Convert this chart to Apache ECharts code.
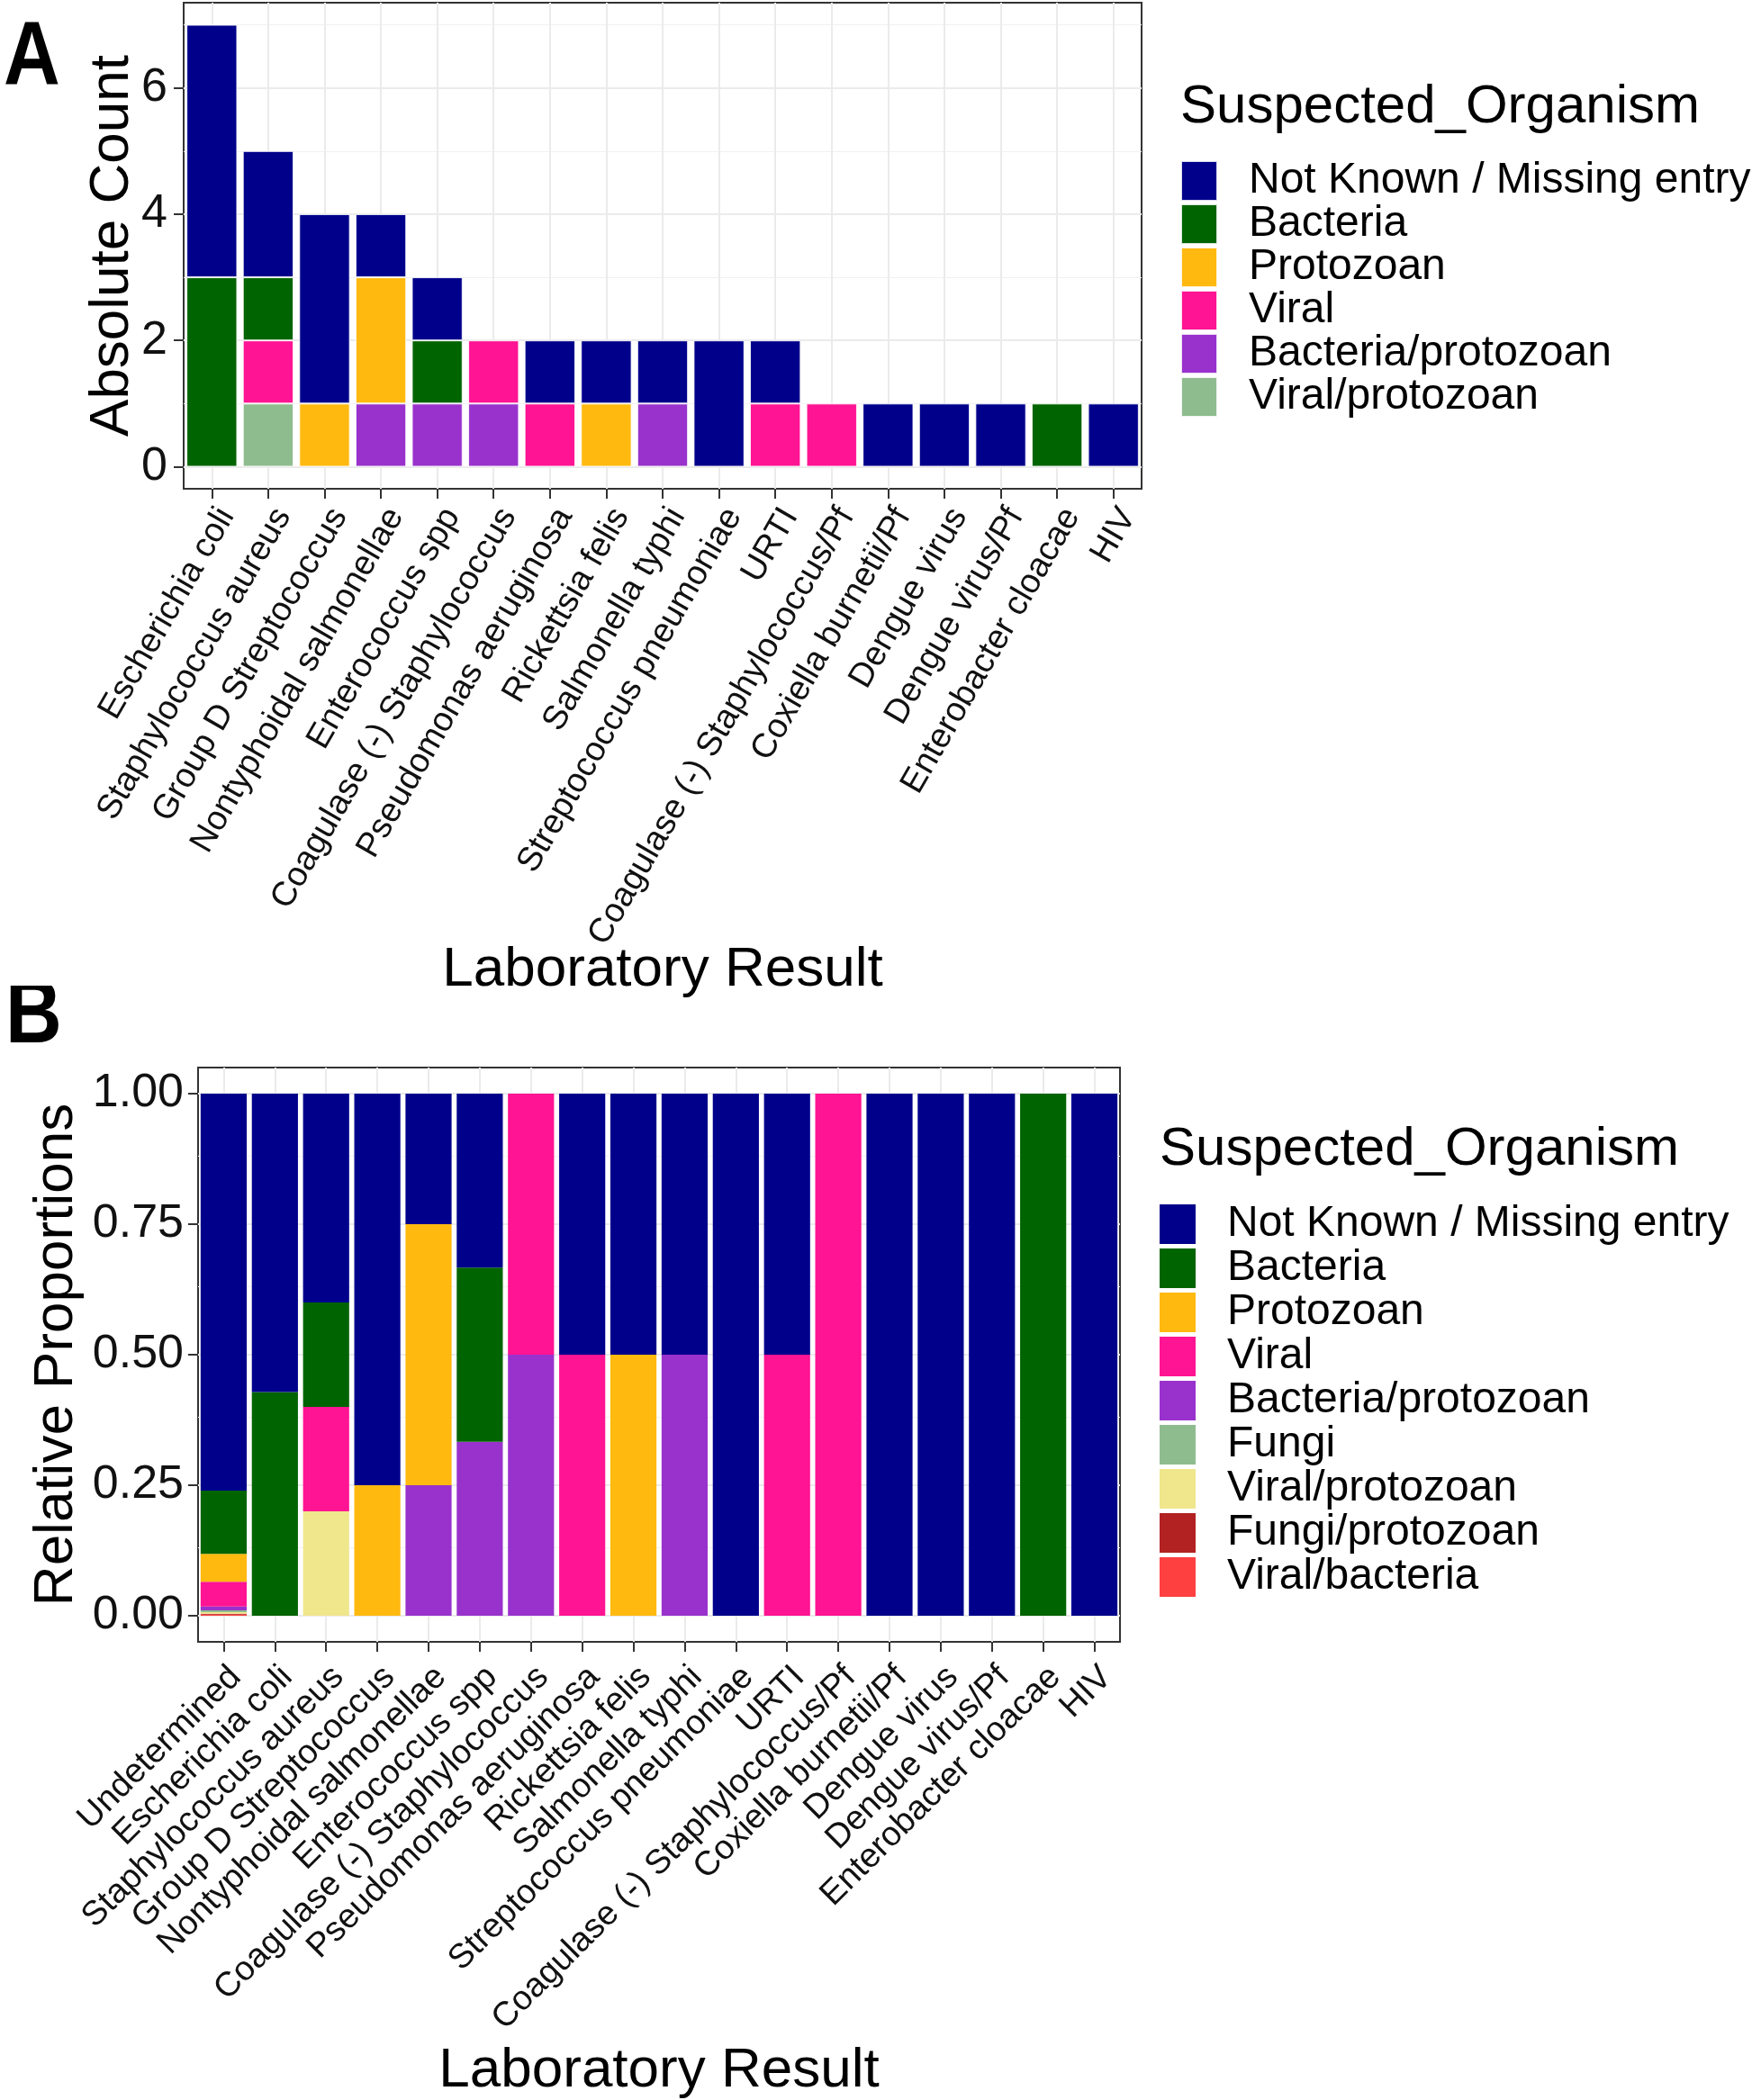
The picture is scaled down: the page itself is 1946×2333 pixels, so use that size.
<!DOCTYPE html>
<html><head><meta charset="utf-8">
<script src="https://cdn.jsdelivr.net/npm/echarts@6/dist/echarts.min.js"></script>
<style>
html,body{margin:0;padding:0;background:#fff;}
#a{position:absolute;left:0;top:0;width:1946px;height:1150px;}
#b{position:absolute;left:0;top:1095px;width:1946px;height:1238px;}
</style>
</head><body><div id="a"></div><div id="b"></div>
<script>
const FONT = "'Liberation Sans', Arial, Helvetica, sans-serif";

// ---------- Panel A : absolute counts ----------
const categoriesA = ['Escherichia coli','Staphylococcus aureus','Group D Streptococcus','Nontyphoidal salmonellae','Enterococcus spp','Coagulase (-) Staphylococcus','Pseudomonas aeruginosa','Rickettsia felis','Salmonella typhi','Streptococcus pneumoniae','URTI','Coagulase (-) Staphylococcus/Pf','Coxiella burnetii/Pf','Dengue virus','Dengue virus/Pf','Enterobacter cloacae','HIV'];
const notKnownA      = [4,2,3,1,1,0,1,1,1,2,1,0,1,1,1,0,1];
const bacteriaA      = [3,1,0,0,1,0,0,0,0,0,0,0,0,0,0,1,0];
const protozoanA     = [0,0,1,2,0,0,0,1,0,0,0,0,0,0,0,0,0];
const viralA         = [0,1,0,0,0,1,1,0,0,0,1,1,0,0,0,0,0];
const bactProtoA     = [0,0,0,1,1,1,0,0,1,0,0,0,0,0,0,0,0];
const viralProtoA    = [0,1,0,0,0,0,0,0,0,0,0,0,0,0,0,0,0];
const yTicksA = [0,2,4,6];
const yMinorA = [1,3,5,7];

// ---------- Panel B : relative proportions ----------
const categoriesB = ['Undetermined','Escherichia coli','Staphylococcus aureus','Group D Streptococcus','Nontyphoidal salmonellae','Enterococcus spp','Coagulase (-) Staphylococcus','Pseudomonas aeruginosa','Rickettsia felis','Salmonella typhi','Streptococcus pneumoniae','URTI','Coagulase (-) Staphylococcus/Pf','Coxiella burnetii/Pf','Dengue virus','Dengue virus/Pf','Enterobacter cloacae','HIV'];
const notKnownB   = [0.7605,0.5714,0.4,0.75,0.25,0.3333,0,0.5,0.5,0.5,1,0.5,0,1,1,1,0,1];
const bacteriaB   = [0.121,0.4286,0.2,0,0,0.3333,0,0,0,0,0,0,0,0,0,0,1,0];
const protozoanB  = [0.0535,0,0,0.25,0.5,0,0,0,0.5,0,0,0,0,0,0,0,0,0];
const viralB      = [0.0475,0,0.2,0,0,0,0.5,0.5,0,0,0,0.5,1,0,0,0,0,0];
const bactProtoB  = [0.007,0,0,0,0.25,0.3333,0.5,0,0,0.5,0,0,0,0,0,0,0,0];
const fungiB      = [0.0035,0,0,0,0,0,0,0,0,0,0,0,0,0,0,0,0,0];
const viralProtoB = [0.003,0,0.2,0,0,0,0,0,0,0,0,0,0,0,0,0,0,0];
const fungiProtoB = [0.002,0,0,0,0,0,0,0,0,0,0,0,0,0,0,0,0,0];
const viralBactB  = [0.002,0,0,0,0,0,0,0,0,0,0,0,0,0,0,0,0,0];
const yTicksB = [0,0.25,0.5,0.75,1];
const yMinorB = [0.125,0.375,0.625,0.875];

const C = {
  nk:'#00008B', bact:'#006400', proto:'#FFB90F', viral:'#FF1493', bp:'#9932CC',
  seagreen:'#8FBC8F', khaki:'#F0E68C', fp:'#B22222', vb:'#FF4040'
};

function gridLines(cats, major, minor) {
  const d = [];
  major.forEach(v => d.push({yAxis: v, lineStyle: {color:'#EBEBEB', width:2, type:'solid'}}));
  minor.forEach(v => d.push({yAxis: v, lineStyle: {color:'#F1F1F1', width:1, type:'solid'}}));
  cats.forEach(c => d.push({xAxis: c, lineStyle: {color:'#EBEBEB', width:2, type:'solid'}}));
  return {type:'line', name:'_grid', data:[], z:0, silent:true,
    markLine:{z:0, silent:true, symbol:['none','none'], label:{show:false}, animation:false, data:d}};
}
function bar(name, vals, color, border) {
  return {type:'bar', name, stack:'s', barWidth:'90%', z:3,
    data: vals.map(v => v === 0 ? null : v),
    itemStyle:{color, borderColor: border ? 'rgba(255,255,255,0.85)' : color, borderWidth: border ? 1 : 0}};
}

function panel(cfg) {
  return {
    animation:false,
    textStyle:{fontFamily:FONT},
    title:{text:'Suspected_Organism', left:cfg.legLeft, top:cfg.legTitleTop, padding:0,
      textStyle:{fontSize:60, fontWeight:'normal', color:'#000', fontFamily:FONT}},
    legend:{orient:'vertical', left:cfg.legLeft, top:cfg.legTop, icon:'rect',
      itemWidth:40, itemHeight:44, itemGap:cfg.legGap, padding:0, selectedMode:false,
      textStyle:{fontSize:48, color:'#000', fontFamily:FONT, padding:[0,0,0,30]},
      data:cfg.legendData},
    graphic:[{type:'text', x:cfg.letterX, y:cfg.letterY, scaleX:0.86,
      style:{text:cfg.letter, x:0, y:0, verticalAlign:'top', fontSize:101, fontWeight:'bold', fill:'#000', fontFamily:FONT}}],
    grid:{left:cfg.grid[0], top:cfg.grid[1], width:cfg.grid[2], height:cfg.grid[3],
      outerBoundsMode:'none', containLabel:false,
      show:true, borderColor:'#333', borderWidth:2, backgroundColor:'transparent'},
    xAxis:{type:'category', data:cfg.cats,
      name:'Laboratory Result', nameLocation:'middle', nameGap:cfg.xNameGap, nameMoveOverlap:false,
      nameTextStyle:{fontSize:62, color:'#000', fontFamily:FONT},
      axisLine:{show:false, onZero:false},
      axisTick:{show:true, alignWithLabel:true, length:11, lineStyle:{color:'#333', width:2}},
      splitLine:{show:false},
      axisLabel:{interval:0, rotate:cfg.rot, align:'right', verticalAlign:'top', margin:cfg.xMargin,
        fontSize:38, color:'#111', fontFamily:FONT}},
    yAxis:{type:'value', min:cfg.ymin, max:cfg.ymax,
      name:cfg.yName, nameLocation:'middle', nameGap:cfg.yNameGap, nameMoveOverlap:false,
      nameTextStyle:{fontSize:62, color:'#000', fontFamily:FONT},
      axisLine:{show:false},
      axisTick:{show:true, length:11, lineStyle:{color:'#333', width:2}, customValues:cfg.yTicks},
      axisLabel:{fontSize:52, color:'#111', fontFamily:FONT, margin:cfg.yMargin,
        customValues:cfg.yTicks, formatter:cfg.yFmt},
      splitLine:{show:false}},
    series:[gridLines(cfg.cats, cfg.yTicks, cfg.yMinor)].concat(cfg.series)
  };
}

const chartA = echarts.init(document.getElementById('a'), null, {renderer:'canvas'});
chartA.setOption(panel({
  cats:categoriesA, grid:[204,3,1064,540], ymin:-0.35, ymax:7.35, yTicks:yTicksA, yMinor:yMinorA,
  yFmt:v => String(v), yName:'Absolute Count', yNameGap:48, yMargin:18,
  rot:60, xMargin:15, xNameGap:504,
  letter:'A', letterX:4, letterY:16,
  legLeft:1311, legTitleTop:89, legTop:177, legGap:0,
  legendData:[
    {name:'Not Known / Missing entry', itemStyle:{color:C.nk}},
    {name:'Bacteria', itemStyle:{color:C.bact}},
    {name:'Protozoan', itemStyle:{color:C.proto}},
    {name:'Viral', itemStyle:{color:C.viral}},
    {name:'Bacteria/protozoan', itemStyle:{color:C.bp}},
    {name:'Viral/protozoan', itemStyle:{color:C.seagreen}}],
  series:[
    bar('Viral/protozoan', viralProtoA, C.seagreen, true),
    bar('Bacteria/protozoan', bactProtoA, C.bp, true),
    bar('Viral', viralA, C.viral, true),
    bar('Protozoan', protozoanA, C.proto, true),
    bar('Bacteria', bacteriaA, C.bact, true),
    bar('Not Known / Missing entry', notKnownA, C.nk, true)]
}));

const chartB = echarts.init(document.getElementById('b'), null, {renderer:'canvas'});
chartB.setOption(panel({
  cats:categoriesB, grid:[220,91,1024,638], ymin:-0.05, ymax:1.05, yTicks:yTicksB, yMinor:yMinorB,
  yFmt:v => v.toFixed(2), yName:'Relative Proportions', yNameGap:126, yMargin:16,
  rot:45, xMargin:20, xNameGap:446,
  letter:'B', letterX:6, letterY:-15,
  legLeft:1288, legTitleTop:152, legTop:241, legGap:1,
  legendData:[
    {name:'Not Known / Missing entry', itemStyle:{color:C.nk}},
    {name:'Bacteria', itemStyle:{color:C.bact}},
    {name:'Protozoan', itemStyle:{color:C.proto}},
    {name:'Viral', itemStyle:{color:C.viral}},
    {name:'Bacteria/protozoan', itemStyle:{color:C.bp}},
    {name:'Fungi', itemStyle:{color:C.seagreen}},
    {name:'Viral/protozoan', itemStyle:{color:C.khaki}},
    {name:'Fungi/protozoan', itemStyle:{color:C.fp}},
    {name:'Viral/bacteria', itemStyle:{color:C.vb}}],
  series:[
    bar('Viral/bacteria', viralBactB, C.vb, false),
    bar('Fungi/protozoan', fungiProtoB, C.fp, false),
    bar('Viral/protozoan', viralProtoB, C.khaki, false),
    bar('Fungi', fungiB, C.seagreen, false),
    bar('Bacteria/protozoan', bactProtoB, C.bp, false),
    bar('Viral', viralB, C.viral, false),
    bar('Protozoan', protozoanB, C.proto, false),
    bar('Bacteria', bacteriaB, C.bact, false),
    bar('Not Known / Missing entry', notKnownB, C.nk, false)]
}));
</script>
</body></html>
